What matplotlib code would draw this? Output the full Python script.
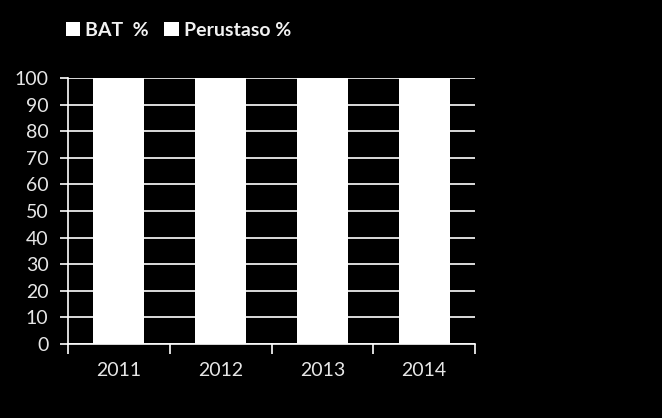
import numpy as np
import matplotlib
matplotlib.use('Agg')
import matplotlib.pyplot as plt

years = ['2011', '2012', '2013', '2014']
bat = [100, 100, 100, 100]
perustaso = [0, 0, 0, 0]
y_ticks = list(range(0, 101, 10))

plt.rcParams['font.family'] = ['Lato', 'DejaVu Sans']

fig = plt.figure(figsize=(6.62, 4.18), dpi=100, facecolor='black')
ax = fig.add_axes([68 / 662, 1 - 344 / 418, (475 - 68) / 662, (344 - 78) / 418])
ax.set_facecolor('black')

x = np.arange(len(years))
ax.bar(x, bat, width=0.5, color='white', label='BAT  %', zorder=3)
ax.bar(x, perustaso, width=0.5, bottom=bat, color='white', label='Perustaso %', zorder=3)

ax.set_xlim(-0.5, len(years) - 0.5)
ax.set_ylim(0, 100)
ax.set_yticks(y_ticks)
ax.yaxis.grid(True, color='white', linewidth=1.2, zorder=0)
ax.set_axisbelow(True)

# category boundaries get the tick marks, labels sit in the middle
ax.set_xticks(np.arange(-0.5, len(years), 1.0))
ax.set_xticklabels([])
ax.set_xticks(x, minor=True)
ax.set_xticklabels(years, minor=True)
ax.tick_params(axis='x', which='major', length=7, width=1.2, color='white', direction='out')
ax.tick_params(axis='x', which='minor', length=0, pad=13, labelsize=14, labelcolor='#e6e6e6')
ax.tick_params(axis='y', length=6, width=1.2, color='white', pad=8, labelsize=14, labelcolor='#e6e6e6')

for side in ['top', 'right']:
    ax.spines[side].set_visible(False)
for side in ['left', 'bottom']:
    ax.spines[side].set_color('white')
    ax.spines[side].set_linewidth(1.2)

leg = fig.legend(loc='upper left', bbox_to_anchor=(48 / 662, 1 - 4 / 418), ncol=2,
                 frameon=False, handlelength=0.75, handleheight=0.75, handletextpad=0.25,
                 columnspacing=0.8, prop={'weight': 'bold', 'size': 14})
for t in leg.get_texts():
    t.set_color('#f2f2f2')

fig.savefig('out.png', dpi=100, facecolor='black')
